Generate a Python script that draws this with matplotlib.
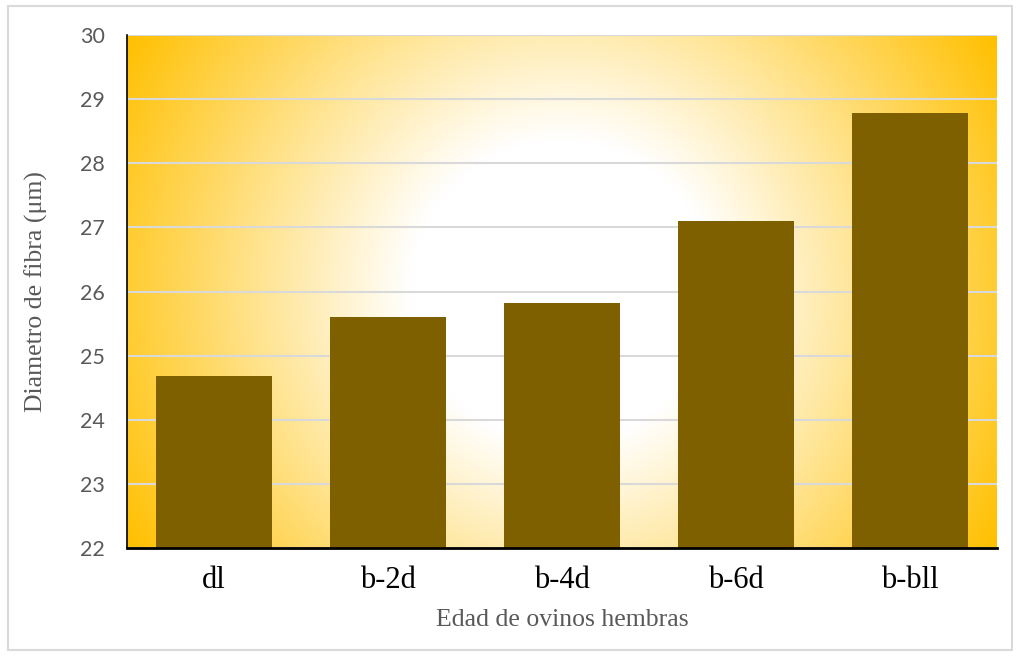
import numpy as np
import matplotlib.pyplot as plt
from matplotlib.colors import LinearSegmentedColormap
from matplotlib.patches import Rectangle

# datos
categorias = ["dl", "b-2d", "b-4d", "b-6d", "b-bll"]
diametro = [24.68, 25.6, 25.82, 27.1, 28.78]
y_ticks = [22, 23, 24, 25, 26, 27, 28, 29, 30]

fig = plt.figure(figsize=(10.17, 6.57), dpi=100)
ax = fig.add_axes([0.1249, 0.1659, 0.8554, 0.7808])

# fondo con degradado radial (blanco al centro, dorado en las esquinas)
w, h = 870, 513
xx, yy = np.meshgrid(np.linspace(-w / 2, w / 2, 400), np.linspace(-h / 2, h / 2, 240))
d = np.sqrt(xx ** 2 + yy ** 2) / np.sqrt((w / 2) ** 2 + (h / 2) ** 2)
t = np.clip((d - 0.3) / 0.7, 0, 1)
cmap = LinearSegmentedColormap.from_list("oro", ["#FFFFFF", "#FFC000"])
ax.imshow(t, cmap=cmap, extent=[0, 1, 0, 1], transform=ax.transAxes,
          aspect="auto", zorder=0, origin="lower", vmin=0, vmax=1)

x = np.arange(len(categorias))
ax.bar(x, diametro, width=0.667, color="#7F6000", zorder=3)

ax.set_xlim(-0.5, len(categorias) - 0.5)
ax.set_ylim(22, 30)
ax.set_yticks(y_ticks)
ax.yaxis.grid(True, color="#D9D9D9", linewidth=1.5, zorder=1)
ax.set_axisbelow(False)
for s in ["top", "right"]:
    ax.spines[s].set_visible(False)
ax.spines["left"].set_color("black")
ax.spines["bottom"].set_color("black")
ax.spines["left"].set_linewidth(1.2)
ax.spines["bottom"].set_linewidth(2)
ax.spines["left"].set_zorder(4)
ax.spines["bottom"].set_zorder(4)

ax.set_xticks(x)
ax.set_xticklabels(categorias, fontsize=22, family="Liberation Serif", color="black")
ax.tick_params(axis="x", length=0, pad=13)
ax.tick_params(axis="y", length=0, pad=16, labelsize=15.5, labelcolor="#595959")
for lb in ax.get_yticklabels():
    lb.set_family("Lato")

ax.set_xlabel("Edad de ovinos hembras", fontsize=18.5, family="Liberation Serif",
              color="#595959", labelpad=10)
ax.set_ylabel("Diametro de fibra (μm)", fontsize=18.5, family="Liberation Serif",
              color="#595959", labelpad=23)

# borde del gráfico
fig.patches.append(Rectangle((8 / 1017, 7 / 657), 1004 / 1017, 644 / 657,
                             transform=fig.transFigure, fill=False,
                             edgecolor="#D9D9D9", linewidth=1.5))

fig.savefig("out.png", dpi=100)
